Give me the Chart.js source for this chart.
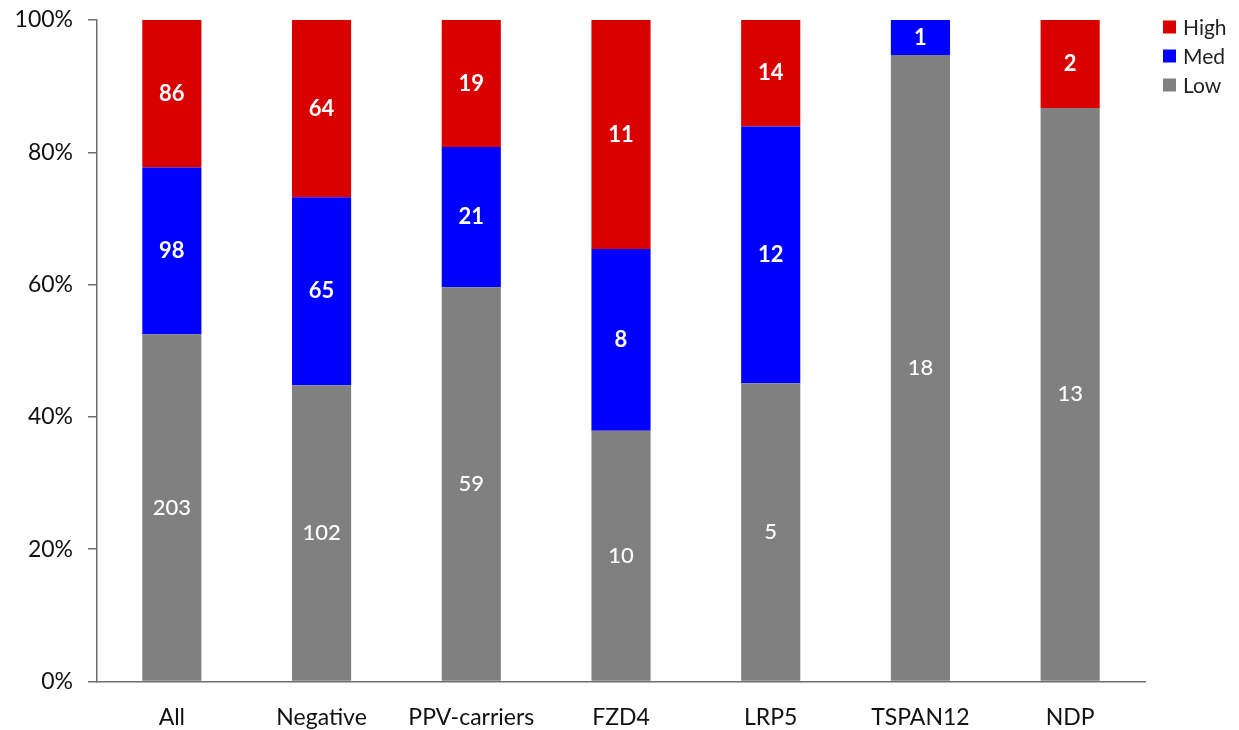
<!DOCTYPE html>
<html>
<head>
<meta charset="utf-8">
<script src="https://cdn.jsdelivr.net/npm/chart.js@4"></script>
<style>
  html, body { margin: 0; padding: 0; background: #fff; }
  #wrap { width: 1239px; height: 730px; position: relative; }
</style>
</head>
<body>
<div id="wrap"><canvas id="c" width="1239" height="730"></canvas></div>
<script>
// ---- data ----
const categories = ['All', 'Negative', 'PPV-carriers', 'FZD4', 'LRP5', 'TSPAN12', 'NDP'];
const lowPct  = [52.5, 44.8, 59.6, 37.9, 45.1, 94.7, 86.7];
const medPct  = [25.2, 28.4, 21.2, 27.5, 38.8, 5.3, 0];
const highPct = [22.3, 26.8, 19.2, 34.6, 16.1, 0, 13.3];
const lowCount  = [203, 102, 59, 10, 5, 18, 13];
const medCount  = [98, 65, 21, 8, 12, 1, 0];
const highCount = [86, 64, 19, 11, 14, 0, 2];
const yTicks = [0, 20, 40, 60, 80, 100];

const FONT = 'Lato, "Liberation Sans", sans-serif';

const labelPlugin = {
  id: 'segLabels',
  afterDatasetsDraw(chart) {
    const ctx = chart.ctx;
    ctx.save();
    ctx.textAlign = 'center';
    ctx.textBaseline = 'middle';
    ctx.fillStyle = '#ffffff';
    chart.data.datasets.forEach((ds, di) => {
      const meta = chart.getDatasetMeta(di);
      meta.data.forEach((el, i) => {
        const cnt = ds.counts[i];
        if (!ds.data[i]) return;
        const p = el.getProps(['x', 'y', 'base'], true);
        ctx.font = (ds.boldLabels ? 'bold ' : '500 ') + '22px ' + FONT;
        ctx.fillText(String(cnt), p.x, (p.y + p.base) / 2);
      });
    });
    ctx.restore();
  }
};

const legendPlugin = {
  id: 'sideLegend',
  afterDraw(chart) {
    const ctx = chart.ctx;
    const order = [2, 1, 0];
    ctx.save();
    ctx.font = '21px ' + FONT;
    ctx.textBaseline = 'middle';
    ctx.textAlign = 'left';
    order.forEach((di, k) => {
      const ds = chart.data.datasets[di];
      const cy = 27 + k * 29;
      ctx.fillStyle = ds.backgroundColor;
      ctx.fillRect(1163, cy - 6.5, 13, 13);
      ctx.fillStyle = '#222';
      ctx.fillText(ds.label, 1183, cy + 1);
    });
    ctx.restore();
  }
};

new Chart(document.getElementById('c'), {
  type: 'bar',
  data: {
    labels: categories,
    datasets: [
      { label: 'Low',  data: lowPct,  counts: lowCount,  backgroundColor: '#808080', boldLabels: false },
      { label: 'Med',  data: medPct,  counts: medCount,  backgroundColor: '#0000ff', boldLabels: true },
      { label: 'High', data: highPct, counts: highCount, backgroundColor: '#d90000', boldLabels: true }
    ]
  },
  options: {
    responsive: false,
    animation: false,
    events: [],
    datasets: { bar: { barPercentage: 0.395, categoryPercentage: 1.0, borderWidth: 0 } },
    layout: { padding: { left: 0, right: 94, top: 20, bottom: 0 } },
    plugins: {
      legend: { display: false },
      tooltip: { enabled: false }
    },
    scales: {
      x: {
        stacked: true,
        grid: { display: false, drawTicks: false },
        border: { display: true, color: '#6e6e6e', width: 1.5 },
        ticks: { color: '#111', font: { family: FONT, size: 23 }, padding: 22, maxRotation: 0, autoSkip: false },
        afterFit(scale) { scale.height = 48.5; scale.paddingLeft = 0; scale.paddingRight = 0; }
      },
      y: {
        stacked: true,
        min: 0, max: 100,
        afterBuildTicks(scale) { scale.ticks = yTicks.map(v => ({ value: v })); },
        grid: { display: true, drawOnChartArea: false, drawTicks: true, tickLength: 9, color: '#6e6e6e', lineWidth: 1.5 },
        border: { display: true, color: '#6e6e6e', width: 1.5 },
        ticks: { color: '#111', font: { family: FONT, size: 23 }, padding: 15, callback: v => v + '%' },
        afterFit(scale) { scale.width = 97; scale.paddingTop = 0; scale.paddingBottom = 0; }
      }
    }
  },
  plugins: [labelPlugin, legendPlugin]
});
</script>
</body>
</html>
